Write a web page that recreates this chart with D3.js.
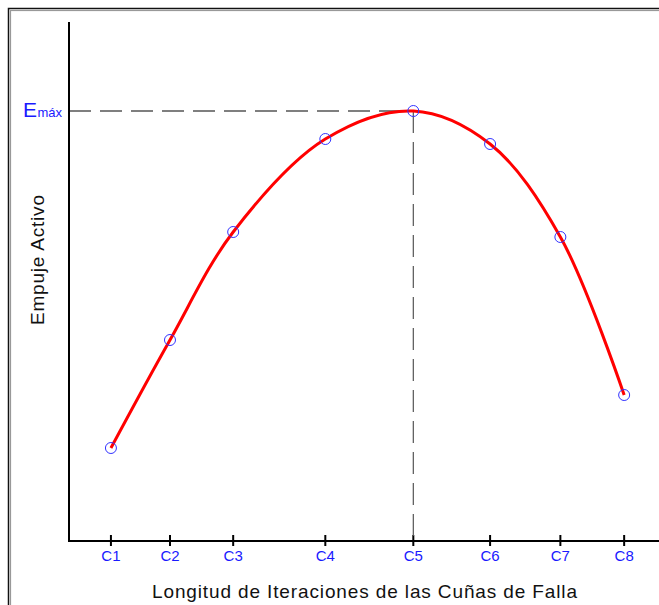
<!DOCTYPE html>
<html><head><meta charset="utf-8">
<script src="https://cdn.jsdelivr.net/npm/d3@7"></script>
<style>body{margin:0;background:#fff}svg{display:block}</style>
</head><body>
<script>
const categories = ["C1","C2","C3","C4","C5","C6","C7","C8"];
const lengths = [1.0, 2.0, 3.07, 4.63, 6.12, 7.42, 8.61, 9.69];
const empuje = [9.3, 20.1, 30.9, 40.2, 43.0, 39.7, 30.4, 14.6];
const maxLabel = ["E", "máx"];

const W = 659, H = 605;
const FONT = "Liberation Sans, Arial, sans-serif";
const svg = d3.select("body").append("svg").attr("width", W).attr("height", H);

// frame (double line)
svg.append("rect").attr("x", 8.5).attr("y", 8.5).attr("width", W).attr("height", H)
  .attr("fill", "none").attr("stroke", "#111").attr("stroke-width", 1.5);
svg.append("rect").attr("x", 10.5).attr("y", 10.5).attr("width", W).attr("height", H)
  .attr("fill", "none").attr("stroke", "#999").attr("stroke-width", 1.2);

const x = d3.scaleLinear().domain([0.29, 10.28]).range([69, 659]);
const y = d3.scaleLinear().domain([0, 51.9]).range([541, 22]);

// axes
svg.append("line").attr("x1", 69).attr("x2", 69).attr("y1", y(51.9)).attr("y2", y(0))
  .attr("stroke", "#000").attr("stroke-width", 2);
svg.append("line").attr("x1", 68).attr("x2", W).attr("y1", y(0)).attr("y2", y(0))
  .attr("stroke", "#000").attr("stroke-width", 2);

const data = categories.map((c, i) => ({c, x: lengths[i], y: empuje[i]}));

svg.selectAll(".tick").data(data).join("line")
  .attr("x1", d => x(d.x)).attr("x2", d => x(d.x))
  .attr("y1", y(0) - 6).attr("y2", y(0) + 5)
  .attr("stroke", "#000").attr("stroke-width", 2);
svg.selectAll(".tl").data(data).join("text")
  .attr("x", d => x(d.x)).attr("y", y(0) + 20)
  .attr("text-anchor", "middle").attr("font-family", FONT)
  .attr("font-size", 15).attr("fill", "#1a1aff").text(d => d.c);

// max guide lines
const iMax = d3.maxIndex(empuje);
const pm = data[iMax];
svg.append("line").attr("x1", 69).attr("x2", x(pm.x)).attr("y1", y(pm.y)).attr("y2", y(pm.y))
  .attr("stroke", "#000").attr("stroke-width", 1.2).attr("stroke-dasharray", "22,9");
svg.append("line").attr("x1", x(pm.x)).attr("x2", x(pm.x)).attr("y1", y(pm.y)).attr("y2", y(0))
  .attr("stroke", "#555").attr("stroke-width", 1.2).attr("stroke-dasharray", "22,9");

// curve
const line = d3.line().x(d => x(d.x)).y(d => y(d.y)).curve(d3.curveCatmullRom.alpha(0.5));
svg.append("path").datum(data).attr("d", line).attr("fill", "none")
  .attr("stroke", "#ff0000").attr("stroke-width", 3);

// points
svg.selectAll(".pt").data(data).join("circle")
  .attr("cx", d => x(d.x)).attr("cy", d => y(d.y)).attr("r", 5.5)
  .attr("fill", "none").attr("stroke", "#3333ff").attr("stroke-width", 1);

// Emax label
const t = svg.append("text").attr("x", 23).attr("y", y(pm.y) + 6)
  .attr("font-family", FONT).attr("fill", "#1a1aff");
t.append("tspan").attr("font-size", 21).text(maxLabel[0]);
t.append("tspan").attr("font-size", 13).attr("dx", 0.5).text(maxLabel[1]);

// axis titles
svg.append("text").attr("x", 152).attr("y", 598)
  .attr("font-family", FONT).attr("font-size", 19)
  .attr("textLength", 425).attr("lengthAdjust", "spacing")
  .attr("fill", "#111").text("Longitud de Iteraciones de las Cuñas de Falla");
svg.append("text").attr("transform", "translate(44,325) rotate(-90)")
  .attr("font-family", FONT).attr("font-size", 19)
  .attr("textLength", 130).attr("lengthAdjust", "spacing")
  .attr("fill", "#111").text("Empuje Activo");
</script>
</body></html>
